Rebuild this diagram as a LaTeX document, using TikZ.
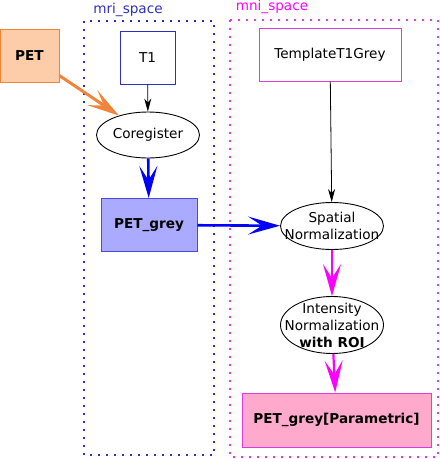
\documentclass[tikz,border=0pt]{standalone}
\usepackage{fontspec}
\setmainfont{DejaVu Sans}
\usetikzlibrary{arrows.meta, positioning, shapes.geometric}
\definecolor{petfill}{HTML}{FDCDA9}
\definecolor{petline}{HTML}{F0853A}
\definecolor{mriblue}{HTML}{2E2EC0}
\definecolor{greyfill}{HTML}{AAAAFF}
\definecolor{greyline}{HTML}{4A4AE0}
\definecolor{mnimag}{HTML}{E03AE0}
\definecolor{magedge}{HTML}{FF00FF}
\definecolor{edgeblue}{HTML}{0000FF}
\definecolor{parfill}{HTML}{FFAACC}
\begin{document}
\begin{tikzpicture}[
			x=1pt, y=-1pt,
			box/.style={draw, line width=1pt, inner sep=0pt},
			proc/.style={draw, ellipse, line width=0.9pt, inner sep=0pt, minimum width=103pt},
			proctext/.style={align=center, inner sep=0pt},
			cluster/.style={line width=1.6pt, dash pattern=on 1.6pt off 6.4pt},
			thin/.style={draw, line width=0.8pt, -{Stealth[length=13pt, width=7pt, inset=4pt]}},
			thick/.style={draw, -{Stealth[length=32pt, width=18pt, inset=14pt]}},
			font=\fontsize{13.6}{17}\selectfont
			]
			\useasboundingbox (0,0) rectangle (440,459);
			
			% clusters
			\draw[cluster, mriblue] (84,21) rectangle (214,455);
			\node[mriblue] (mrilabel) at (128,10) {mri\_space};
			\draw[cluster, mnimag] (230,20) rectangle (438,457);
			\node[magedge] (mnilabel) at (272,7) {mni\_space};
			
			% nodes
			\node[box, draw=petline, fill=petfill, minimum width=59pt, minimum height=53pt, font=\fontsize{13.6}{17}\selectfont\bfseries] (pet) at (29.5,55.5) {PET};
			\node[box, draw=mriblue, fill=white, minimum width=55pt, minimum height=53pt] (t1) at (147.5,57.5) {T1};
			\node[proc, minimum height=46pt] (coreg) at (148,135) {};
			\node[proctext] (coregtext) at (coreg) {Coregister};
			\node[box, draw=greyline, fill=greyfill, minimum width=96pt, minimum height=53pt, font=\fontsize{13.6}{17}\selectfont\bfseries] (petgrey) at (149,225) {PET\_grey};
			
			\node[box, draw=mnimag, fill=white, minimum width=142pt, minimum height=53pt] (template) at (330,54.5) {TemplateT1Grey};
			\node[proc, minimum height=47pt] (spatial) at (332,226) {};
			\node[proctext] (spatialtext) at (spatial) {Spatial\\Normalization};
			\node[proc, minimum height=57pt] (intensity) at (332,325) {};
			\node[proctext] (intensitytext) at (intensity) {Intensity\\Normalization\\\textbf{with ROI}};
			\node[box, draw=mnimag, fill=parfill, minimum width=189pt, minimum height=54pt, font=\fontsize{13.6}{17}\selectfont\bfseries] (param) at (336.5,420) {PET\_grey[Parametric]};
			
			% edges
			\draw[thick, petline, line width=3pt] (pet) -- (coreg);
			\draw[thin] (t1) -- (coreg);
			\draw[thick, edgeblue, line width=2.6pt] (coreg) -- (petgrey);
			\draw[thick, edgeblue, line width=2.6pt] (petgrey) -- (spatial);
			\draw[thin] (template) -- (spatial);
			\draw[thick, magedge, line width=2.2pt] (spatial) -- (intensity);
			\draw[thick, magedge, line width=2.2pt] (intensity) -- (param);
			
		\end{tikzpicture}
\end{document}
